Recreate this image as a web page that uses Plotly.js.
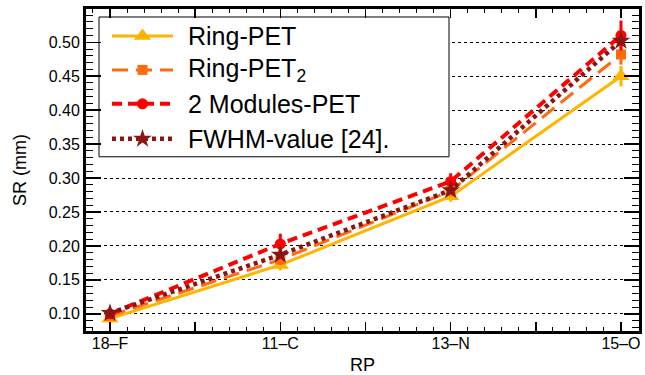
<!DOCTYPE html>
<html>
<head>
<meta charset="utf-8">
<script src="https://cdn.plot.ly/plotly-3.0.1.min.js"></script>
<style>html,body{margin:0;padding:0;background:#fff;}#chart{width:645px;height:375px;}</style>
</head>
<body>
<div id="chart"></div>
<script>
// Data
const categories = ['18\u2013F', '11\u2013C', '13\u2013N', '15\u2013O'];
const seriesNames = ['Ring-PET', 'Ring-PET<sub>2</sub>', '2 Modules-PET', 'FWHM-value [24].'];
const ringPET      = [0.093, 0.172, 0.273, 0.450];
const ringPETErr   = [0.006, 0.008, 0.008, 0.015];
const ringPET2     = [0.097, 0.180, 0.281, 0.482];
const ringPET2Err  = [0.005, 0.008, 0.008, 0.015];
const modulesPET   = [0.100, 0.203, 0.295, 0.510];
const modulesErr   = [0.005, 0.015, 0.012, 0.022];
const fwhmValue    = [0.101, 0.187, 0.282, 0.502];
const fwhmErr      = [0.004, 0.005, 0.005, 0.006];
const yTickStep = 0.05;

const xIdx = categories.map((c, i) => i);
const tickVals = [];
const tickText = [];
categories.forEach((c, i) => {
  tickVals.push(i); tickText.push(c);
  if (i < categories.length - 1) { tickVals.push(i + 0.5); tickText.push(' '); }
});

const styles = [
  {color: '#FFB400', dash: 'solid',    width: 3,   symbol: 'triangle-up', size: 15},
  {color: '#FF6A10', dash: '16px,8px', width: 3,   symbol: 'square',      size: 10},
  {color: '#FF0000', dash: '10px,6px', width: 4,   symbol: 'circle',      size: 11},
  {color: '#8B1414', dash: '4px,4px',  width: 4.5, symbol: 'star',        size: 14}
];
const seriesY = [ringPET, ringPET2, modulesPET, fwhmValue];
const seriesErr = [ringPETErr, ringPET2Err, modulesErr, fwhmErr];

const traces = seriesY.map((y, k) => ({
  x: xIdx, y: y, name: seriesNames[k], type: 'scatter', mode: 'lines+markers',
  showlegend: false, hoverinfo: 'skip', opacity: 1,
  line: {color: styles[k].color, dash: styles[k].dash, width: styles[k].width},
  marker: {color: styles[k].color, symbol: styles[k].symbol, size: styles[k].size, opacity: 1, line: {width: 0}},
  error_y: {type: 'data', array: seriesErr[k], visible: true, color: styles[k].color, thickness: 3, width: 0}
}));

// Plot frame in pixels
const L = 86, R = 639, T = 9, B = 331.5;
const W = 645, H = 375;

// Custom legend drawn in a pixel-based overlay subplot
const legBox = {x0: 99, x1: 449, y0: 17, y1: 157};
const legRows = [36, 70, 104, 139];
const legLineX = [112, 173];
const legMarkX = 142.5;
const legTextX = 186;

traces.push({
  x: [legBox.x0, legBox.x1, legBox.x1, legBox.x0, legBox.x0],
  y: [legBox.y0, legBox.y0, legBox.y1, legBox.y1, legBox.y0],
  xaxis: 'x2', yaxis: 'y2', type: 'scatter', mode: 'lines', fill: 'toself',
  fillcolor: '#fff', line: {color: '#000', width: 1}, showlegend: false, hoverinfo: 'skip'
});
styles.forEach((s, k) => {
  traces.push({
    x: legLineX, y: [legRows[k], legRows[k]],
    xaxis: 'x2', yaxis: 'y2', type: 'scatter', mode: 'lines',
    line: {color: s.color, dash: s.dash, width: s.width},
    showlegend: false, hoverinfo: 'skip'
  });
});
styles.forEach((s, k) => {
  traces.push({
    x: [legMarkX], y: [legRows[k]],
    xaxis: 'x2', yaxis: 'y2', type: 'scatter', mode: 'markers', opacity: 1,
    marker: {color: s.color, symbol: s.symbol, size: s.size, opacity: 1, line: {width: 0}},
    showlegend: false, hoverinfo: 'skip'
  });
});

const annotations = seriesNames.map((n, k) => ({
  xref: 'x2', yref: 'y2', x: legTextX, y: legRows[k], text: n,
  xanchor: 'left', yanchor: 'middle', showarrow: false,
  font: {size: 25, color: '#000'}
}));

const layout = {
  width: W, height: H,
  margin: {l: L, r: W - R, t: T, b: H - B, pad: 0},
  paper_bgcolor: '#fff', plot_bgcolor: '#fff',
  font: {family: '"Liberation Sans", Arial, Helvetica, sans-serif', color: '#000', size: 16},
  showlegend: false,
  annotations: annotations,
  xaxis: {
    range: [(L - 110) / 170.33, (R - 110) / 170.33],
    tickmode: 'array', tickvals: tickVals, ticktext: tickText,
    ticks: 'inside', ticklen: 9, tickwidth: 1.5, tickcolor: '#000',
    minor: {dtick: 0.1, tick0: 0, ticks: 'inside', ticklen: 4, tickwidth: 1, tickcolor: '#000', showgrid: false},
    showline: true, linewidth: 3, linecolor: '#000', mirror: 'allticks',
    showgrid: false, zeroline: false,
    tickfont: {size: 16},
    ticklabelstandoff: -4,
    title: {text: 'RP', font: {size: 18}, standoff: 8},
    automargin: false
  },
  yaxis: {
    range: [0.1 - (B - 314.3) / 680, 0.5 + (42.3 - T) / 680],
    tick0: 0, dtick: yTickStep, tickformat: '.2f',
    ticks: 'inside', ticklen: 15, tickwidth: 1.5, tickcolor: '#000',
    minor: {dtick: 0.01, ticks: 'inside', ticklen: 7, tickwidth: 1, tickcolor: '#000', showgrid: false},
    showline: true, linewidth: 3, linecolor: '#000', mirror: 'allticks',
    showgrid: true, gridcolor: '#000', gridwidth: 1, griddash: 'dot',
    zeroline: false,
    tickfont: {size: 16},
    title: {text: 'SR (mm)', font: {size: 18}, standoff: 18},
    automargin: false
  },
  xaxis2: {overlaying: 'x', range: [L, R], visible: false, fixedrange: true},
  yaxis2: {overlaying: 'y', range: [B, T], visible: false, fixedrange: true}
};

Plotly.newPlot('chart', traces, layout, {displayModeBar: false, staticPlot: true});
</script>
</body>
</html>
